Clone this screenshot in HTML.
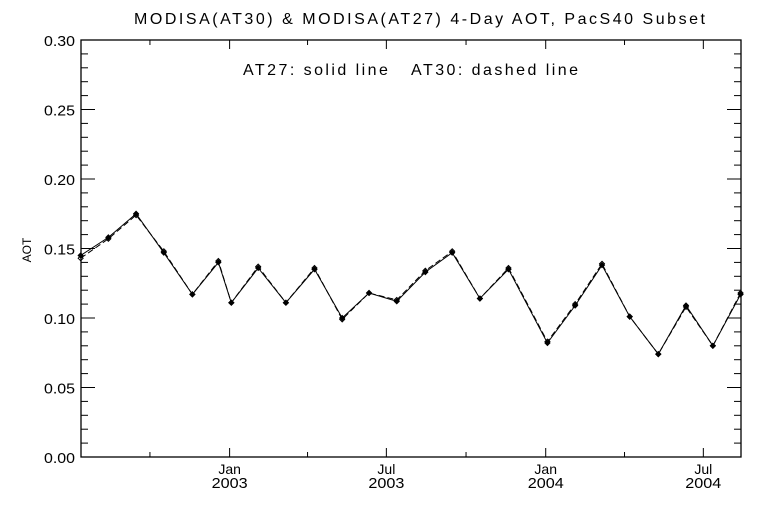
<!DOCTYPE html>
<html><head><meta charset="utf-8">
<style>
html,body{margin:0;padding:0;background:#fff;}
svg{display:block;font-family:"Liberation Sans",sans-serif;}
</style></head>
<body>
<svg id="chart" width="768" height="512" viewBox="0 0 768 512" xmlns="http://www.w3.org/2000/svg">
<rect width="768" height="512" fill="#fff"/>
<text x="134" y="24" font-size="16" textLength="571" lengthAdjust="spacing">MODISA(AT30) &amp; MODISA(AT27) 4-Day AOT, PacS40 Subset</text>
<text x="243" y="75" font-size="16" textLength="335" lengthAdjust="spacing">AT27: solid line &#160;&#160;AT30: dashed line</text>
<text x="31" y="250" font-size="12" text-anchor="middle" transform="rotate(-90 31 250)">AOT</text>
<g id="axes"></g>
<g id="series"></g>
</svg>
<script>
// days since 2003-01-01
const dates = [-172,-140,-108,-76,-43,-13,2,33,65,98,130,161,193,226,257,289,322,367,399,430,462,495,527,558,590];
const at27 = [0.145,0.158,0.175,0.147,0.117,0.140,0.111,0.136,0.111,0.135,0.100,0.118,0.112,0.133,0.147,0.114,0.135,0.082,0.109,0.138,0.101,0.074,0.109,0.080,0.117];
const at30 = [0.143,0.157,0.174,0.148,0.117,0.141,0.111,0.137,0.111,0.136,0.099,0.118,0.113,0.134,0.148,0.114,0.136,0.083,0.110,0.139,0.101,0.074,0.108,0.080,0.118];
const yTicks = [0,0.05,0.10,0.15,0.20,0.25,0.30];
const yTickLabels = ["0.00","0.05","0.10","0.15","0.20","0.25","0.30"];
const xMajor = [0,181,365,547];
const xMonthLabels = ["Jan","Jul","Jan","Jul"];
const xYearLabels = ["2003","2003","2004","2004"];
const xMinor = [-92,90,273,456];

const L=81,R=741,T=40,B=457;
const D0=-171.6,D1=590.5;
const sx=d=>L+(d-D0)/(D1-D0)*(R-L);
const sy=v=>B-v/0.30*(B-T);
const NS="http://www.w3.org/2000/svg";
function mk(tag,attrs,parent){const e=document.createElementNS(NS,tag);for(const k in attrs)e.setAttribute(k,attrs[k]);parent.appendChild(e);return e;}
const ax=document.getElementById('axes');
const frame=mk('rect',{x:L,y:T,width:R-L,height:B-T,fill:'none',stroke:'#000','stroke-width':1.3},ax);


for(let i=0;i<yTicks.length;i++){
  const y=sy(yTicks[i]);
  mk('line',{x1:L,y1:y,x2:L+14,y2:y,stroke:'#000'},ax);
  mk('line',{x1:R,y1:y,x2:R-14,y2:y,stroke:'#000'},ax);
  const t=mk('text',{x:44,y:y+6,'font-size':15,textLength:31,lengthAdjust:'spacingAndGlyphs'},ax);
  t.textContent=yTickLabels[i];
  
  
  if(i<yTicks.length-1){
    for(let k=1;k<5;k++){const ym=sy(yTicks[i]+0.01*k);
      mk('line',{x1:L,y1:ym,x2:L+7,y2:ym,stroke:'#000'},ax);
      mk('line',{x1:R,y1:ym,x2:R-7,y2:ym,stroke:'#000'},ax);}
  }
}
for(let i=0;i<xMajor.length;i++){
  const x=sx(xMajor[i]);
  mk('line',{x1:x,y1:B,x2:x,y2:B-9,stroke:'#000'},ax);
  mk('line',{x1:x,y1:T,x2:x,y2:T+9,stroke:'#000'},ax);
  const t1=mk('text',{x:x,y:474,'font-size':14,'text-anchor':'middle'},ax);
  t1.textContent=xMonthLabels[i];
  
  
  const t2=mk('text',{x:x-18,y:488,'font-size':15,textLength:36,lengthAdjust:'spacingAndGlyphs'},ax);
  t2.textContent=xYearLabels[i];
  
  
}
for(const d of xMinor){const x=sx(d);
  mk('line',{x1:x,y1:B,x2:x,y2:B-5,stroke:'#000'},ax);
  mk('line',{x1:x,y1:T,x2:x,y2:T+5,stroke:'#000'},ax);}
const sg=document.getElementById('series');
function series(vals,dash,name,filled){
  const pts=dates.map((d,i)=>sx(d).toFixed(1)+','+sy(vals[i]).toFixed(1)).join(' ');
  const pl=mk('polyline',{points:pts,fill:'none',stroke:'#000','stroke-width':1,'stroke-dasharray':dash},sg);
  
  
  dates.forEach((d,i)=>{const x=sx(d),y=sy(vals[i]);
    const m=mk('polygon',{points:`${x},${y-2.5} ${x+2.5},${y} ${x},${y+2.5} ${x-2.5},${y}`,fill:filled?'#000':'none',stroke:'#000','stroke-width':1},sg);
    
    });
}
series(at30,'6,3','at30-dashed-line',false);
series(at27,'none','at27-solid-line',true);
</script>
</body></html>
